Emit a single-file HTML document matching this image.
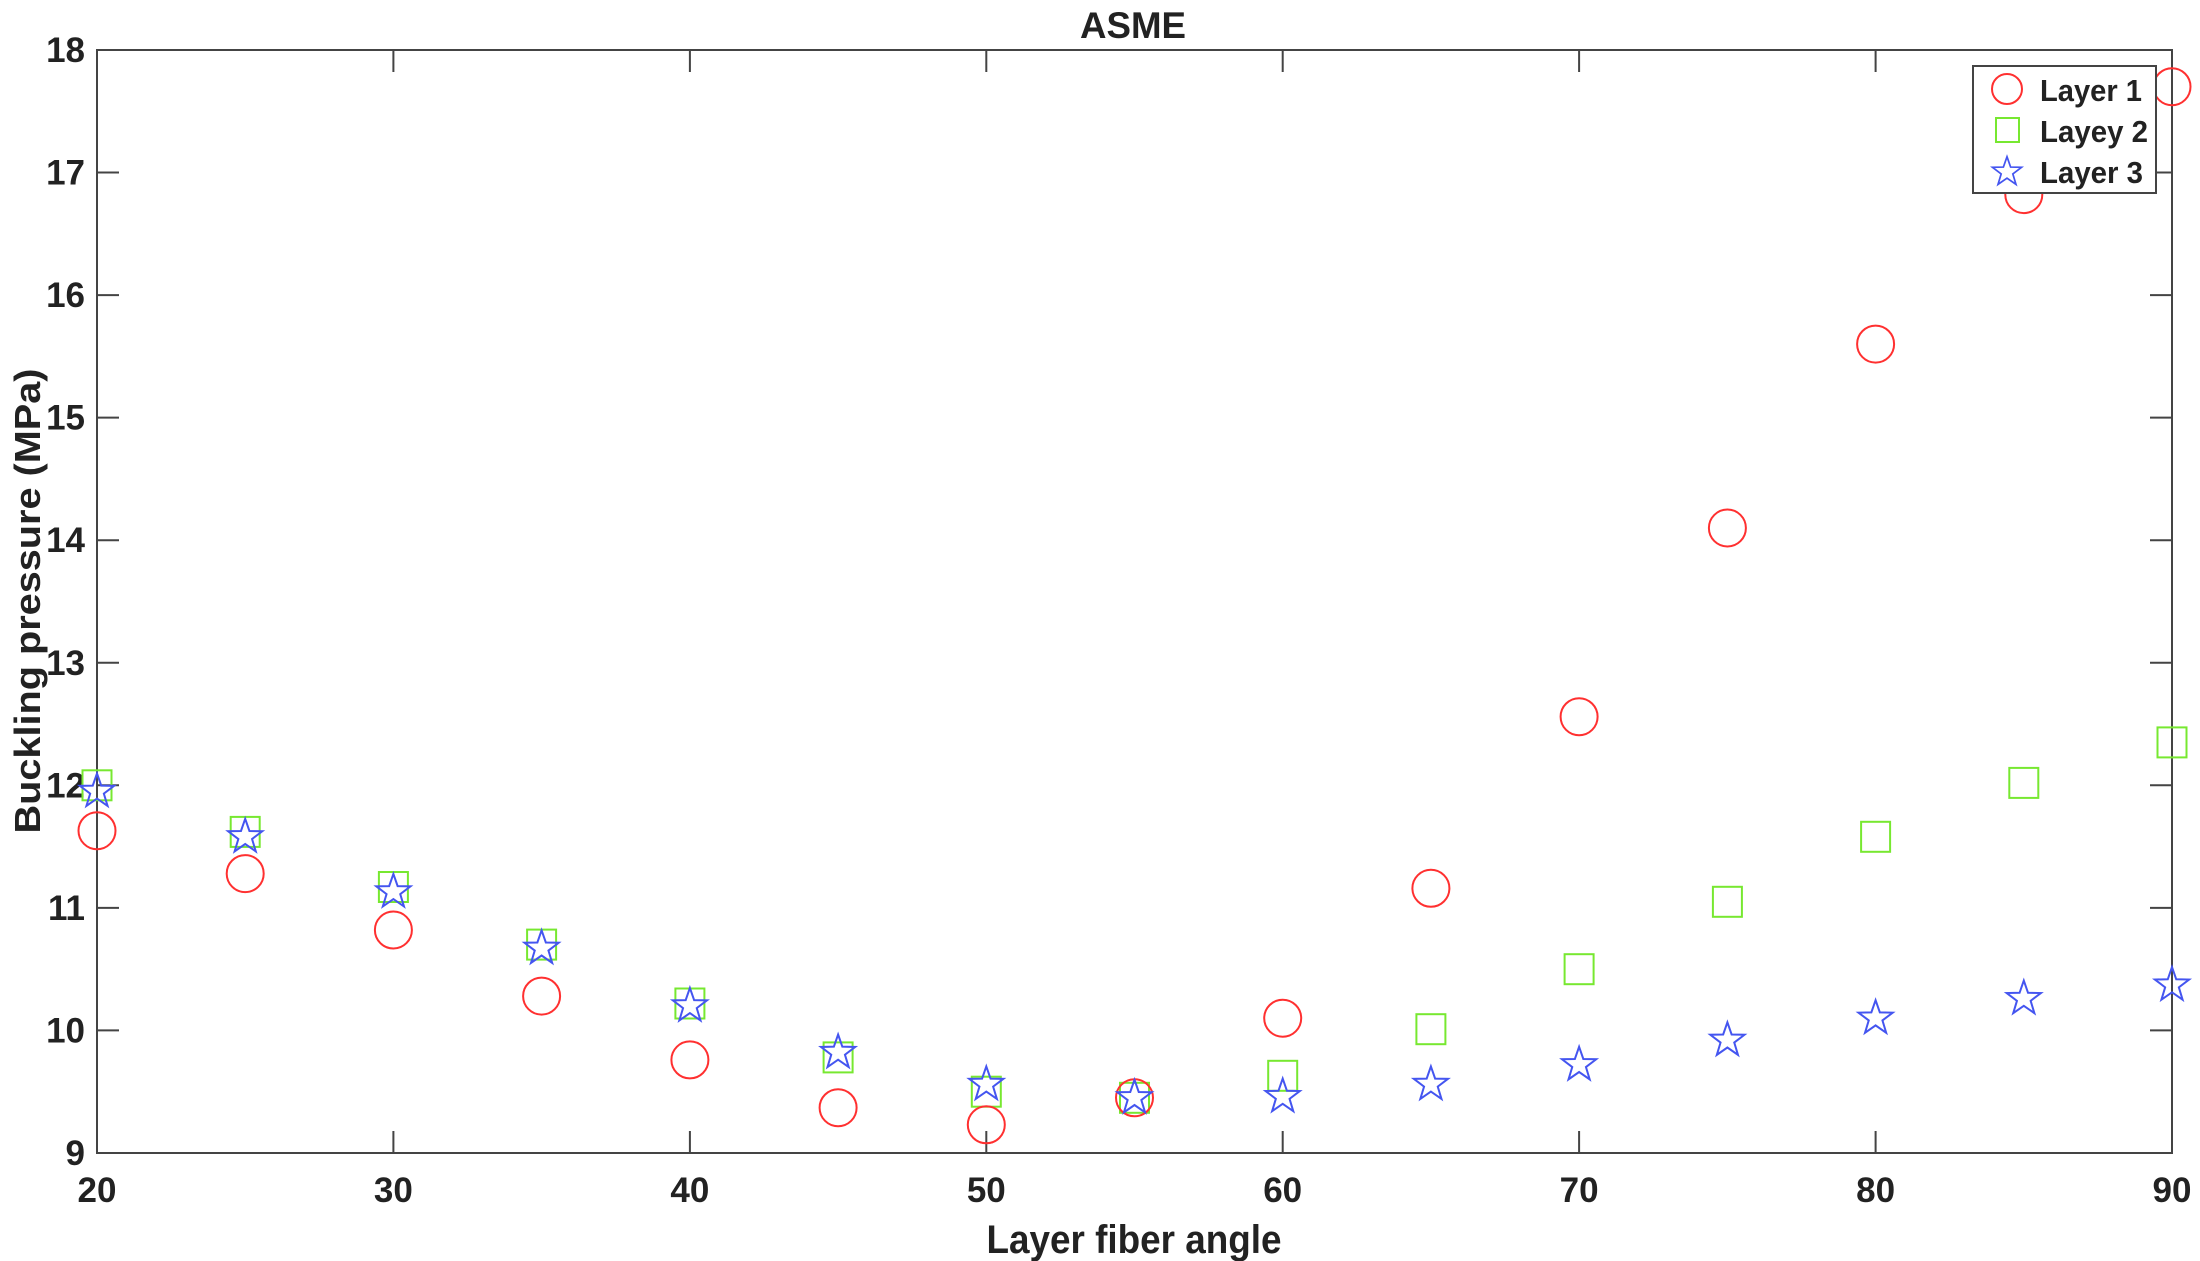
<!DOCTYPE html>
<html><head><meta charset="utf-8"><style>
html,body{margin:0;padding:0;background:#fff;}
svg{display:block;}
text{font-family:"Liberation Sans",Arial,sans-serif;font-weight:bold;fill:#222;}
</style></head><body>
<svg width="2200" height="1261" viewBox="0 0 2200 1261" xmlns="http://www.w3.org/2000/svg">
<defs>
<circle id="c" r="18.5" fill="none" stroke="#ff3030" stroke-width="2"/>
<rect id="s" x="-14.5" y="-15" width="29" height="30" fill="none" stroke="#77e830" stroke-width="2"/>
<polygon id="t" points="0,-18 4.23,-5.82 17.12,-5.56 6.85,2.22 10.58,14.56 0,7.2 -10.58,14.56 -6.85,2.22 -17.12,-5.56 -4.23,-5.82" fill="none" stroke="#4455f0" stroke-width="2"/>
</defs>
<rect x="97" y="50" width="2075" height="1103" fill="none" stroke="#444" stroke-width="2"/>
<g stroke="#444" stroke-width="2">
<path d="M97,1153v-22M393.4,1153v-22M689.9,1153v-22M986.3,1153v-22M1282.7,1153v-22M1579.1,1153v-22M1875.6,1153v-22M2172,1153v-22"/>
<path d="M97,50v22M393.4,50v22M689.9,50v22M986.3,50v22M1282.7,50v22M1579.1,50v22M1875.6,50v22M2172,50v22"/>
<path d="M97,1030.4h22M97,907.9h22M97,785.3h22M97,662.8h22M97,540.2h22M97,417.6h22M97,295.1h22M97,172.5h22"/>
<path d="M2172,1030.4h-22M2172,907.9h-22M2172,785.3h-22M2172,662.8h-22M2172,540.2h-22M2172,417.6h-22M2172,295.1h-22M2172,172.5h-22"/>
</g>
<g font-size="35" text-anchor="middle">
<text x="97" y="1202">20</text><text x="393.4" y="1202">30</text><text x="689.9" y="1202">40</text><text x="986.3" y="1202">50</text><text x="1282.7" y="1202">60</text><text x="1579.1" y="1202">70</text><text x="1875.6" y="1202">80</text><text x="2172" y="1202">90</text>
</g>
<g font-size="35" text-anchor="end">
<text x="85" y="1165">9</text><text x="85" y="1042.4">10</text><text x="85" y="919.9">11</text><text x="85" y="797.3">12</text><text x="85" y="674.8">13</text><text x="85" y="552.2">14</text><text x="85" y="429.6">15</text><text x="85" y="307.1">16</text><text x="85" y="184.5">17</text><text x="85" y="62">18</text>
</g>
<text x="1133" y="38" font-size="37" text-anchor="middle" textLength="106" lengthAdjust="spacingAndGlyphs">ASME</text>
<text x="1134" y="1253" font-size="40" text-anchor="middle" textLength="295" lengthAdjust="spacingAndGlyphs">Layer fiber angle</text>
<text transform="translate(40,601) rotate(-90)" x="0" y="0" font-size="36" text-anchor="middle" textLength="465" lengthAdjust="spacingAndGlyphs">Buckling  pressure (MPa)</text>
<g>
<use href="#s" x="97" y="785.3"/><use href="#s" x="245.2" y="831.9"/><use href="#s" x="393.4" y="887"/><use href="#s" x="541.6" y="944.6"/><use href="#s" x="689.9" y="1003.5"/><use href="#s" x="838.1" y="1057.4"/><use href="#s" x="986.3" y="1091.7"/><use href="#s" x="1134.5" y="1097.8"/><use href="#s" x="1282.7" y="1075.8"/><use href="#s" x="1430.9" y="1029.2"/><use href="#s" x="1579.1" y="969.2"/><use href="#s" x="1727.4" y="901.8"/><use href="#s" x="1875.6" y="836.8"/><use href="#s" x="2023.8" y="782.9"/><use href="#s" x="2172" y="742.4"/>
</g>
<g>
<use href="#c" x="97" y="830.7"/><use href="#c" x="245.2" y="873.6"/><use href="#c" x="393.4" y="930"/><use href="#c" x="541.6" y="996.1"/><use href="#c" x="689.9" y="1059.9"/><use href="#c" x="838.1" y="1107.7"/><use href="#c" x="986.3" y="1124.8"/><use href="#c" x="1134.5" y="1097.8"/><use href="#c" x="1282.7" y="1018.2"/><use href="#c" x="1430.9" y="888.3"/><use href="#c" x="1579.1" y="716.7"/><use href="#c" x="1727.4" y="528"/><use href="#c" x="1875.6" y="344.1"/><use href="#c" x="2023.8" y="194.6"/><use href="#c" x="2172" y="86.7"/>
</g>
<g>
<use href="#t" x="97" y="791.4"/><use href="#t" x="245.2" y="836.8"/><use href="#t" x="393.4" y="891.9"/><use href="#t" x="541.6" y="948.3"/><use href="#t" x="689.9" y="1005.9"/><use href="#t" x="838.1" y="1052.5"/><use href="#t" x="986.3" y="1084.4"/><use href="#t" x="1134.5" y="1097.8"/><use href="#t" x="1282.7" y="1096.6"/><use href="#t" x="1430.9" y="1084.4"/><use href="#t" x="1579.1" y="1064.8"/><use href="#t" x="1727.4" y="1040.3"/><use href="#t" x="1875.6" y="1018.2"/><use href="#t" x="2023.8" y="998.6"/><use href="#t" x="2172" y="985.1"/>
</g>
<rect x="1973" y="66" width="183" height="127" fill="#fff" stroke="#444" stroke-width="2"/>
<circle cx="2007" cy="89" r="15" fill="none" stroke="#ff3030" stroke-width="2"/>
<rect x="1996" y="118" width="23" height="24" fill="none" stroke="#77e830" stroke-width="2"/>
<polygon transform="translate(2007,172) scale(0.85)" points="0,-18 4.23,-5.82 17.12,-5.56 6.85,2.22 10.58,14.56 0,7.2 -10.58,14.56 -6.85,2.22 -17.12,-5.56 -4.23,-5.82" fill="none" stroke="#4455f0" stroke-width="2"/>
<g font-size="31" fill="#111">
<text x="2040" y="101" textLength="102" lengthAdjust="spacingAndGlyphs">Layer 1</text>
<text x="2040" y="142" textLength="108" lengthAdjust="spacingAndGlyphs">Layey 2</text>
<text x="2040" y="183" textLength="103" lengthAdjust="spacingAndGlyphs">Layer 3</text>
</g>
</svg>
</body></html>
